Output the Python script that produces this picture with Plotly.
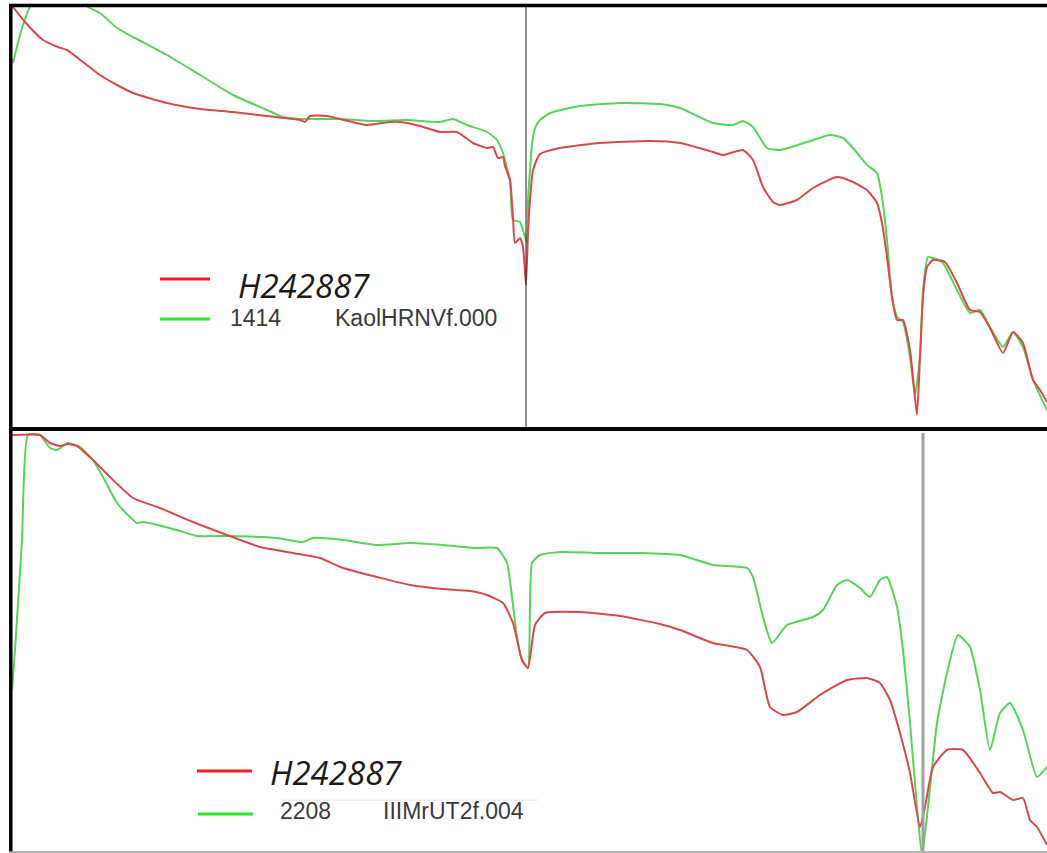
import plotly.graph_objects as go

W, H = 1047, 853

# ---------------- data (wavelength nm, reflectance) ----------------
# Top panel: sample H242887 vs reference 1414 KaolHRNVf.000
top_red_wl = [388, 412, 448, 478, 496, 528, 562, 596, 628, 696, 762, 828, 896, 962, 972, 982,
              1016, 1042, 1096, 1142, 1162, 1202, 1242, 1276, 1308, 1336, 1348, 1358, 1368, 1372,
              1382, 1388, 1392, 1402, 1408, 1414, 1418, 1422, 1428, 1442, 1482, 1562, 1662, 1722,
              1788, 1808, 1848, 1868, 1888, 1908, 1922, 1956, 1988, 2036, 2068, 2096, 2116, 2126,
              2136, 2146, 2156, 2168, 2182, 2188, 2196, 2202, 2208, 2216, 2228, 2252, 2276, 2302,
              2322, 2342, 2368, 2388, 2408, 2428, 2442, 2456]
top_red_r = [0.421, 0.406, 0.388, 0.381, 0.378, 0.366, 0.353, 0.343, 0.335, 0.325, 0.319, 0.316,
             0.312, 0.308, 0.306, 0.312, 0.312, 0.309, 0.303, 0.306, 0.306, 0.302, 0.296, 0.296,
             0.285, 0.280, 0.281, 0.270, 0.271, 0.262, 0.248, 0.211, 0.185, 0.190, 0.181, 0.143,
             0.195, 0.228, 0.258, 0.274, 0.280, 0.285, 0.287, 0.285, 0.276, 0.273, 0.278, 0.268,
             0.241, 0.226, 0.223, 0.228, 0.240, 0.251, 0.246, 0.238, 0.225, 0.205, 0.171, 0.131,
             0.108, 0.108, 0.078, 0.051, 0.013, 0.071, 0.131, 0.161, 0.168, 0.166, 0.145, 0.118,
             0.116, 0.100, 0.075, 0.096, 0.085, 0.048, 0.038, 0.026]

top_green_wl = [388, 402, 422, 452, 482, 512, 538, 562, 596, 628, 696, 762, 828, 896, 928, 962,
                1042, 1108, 1176, 1242, 1268, 1296, 1336, 1356, 1368, 1372, 1382, 1388, 1402, 1412,
                1416, 1418, 1422, 1426, 1432, 1442, 1462, 1522, 1602, 1682, 1722, 1788, 1828, 1848,
                1868, 1896, 1922, 1976, 2022, 2048, 2068, 2096, 2116, 2126, 2136, 2146, 2156, 2168,
                2182, 2192, 2202, 2208, 2218, 2228, 2248, 2276, 2302, 2322, 2342, 2368, 2388, 2408,
                2428, 2456]
top_green_r = [0.365, 0.393, 0.421, 0.436, 0.440, 0.434, 0.421, 0.415, 0.400, 0.391, 0.373, 0.353,
               0.333, 0.318, 0.311, 0.309, 0.309, 0.307, 0.308, 0.306, 0.309, 0.303, 0.296, 0.288,
               0.275, 0.268, 0.248, 0.208, 0.206, 0.191, 0.185, 0.228, 0.258, 0.283, 0.300, 0.308,
               0.315, 0.322, 0.325, 0.324, 0.320, 0.305, 0.303, 0.307, 0.301, 0.280, 0.278, 0.286,
               0.293, 0.290, 0.280, 0.263, 0.255, 0.231, 0.188, 0.131, 0.111, 0.106, 0.071, 0.033,
               0.071, 0.138, 0.171, 0.170, 0.165, 0.138, 0.115, 0.118, 0.101, 0.081, 0.096, 0.081,
               0.048, 0.018]

# Bottom panel: sample H242887 vs reference 2208 IIIMrUT2f.004
bot_red_wl = [386, 442, 462, 482, 498, 516, 548, 582, 628, 682, 748, 816, 882, 948, 1002, 1048,
              1116, 1182, 1248, 1302, 1336, 1368, 1388, 1406, 1418, 1432, 1452, 1522, 1602, 1682,
              1722, 1788, 1856, 1882, 1902, 1928, 1956, 2002, 2056, 2096, 2122, 2142, 2162, 2182,
              2202, 2212, 2228, 2256, 2288, 2322, 2348, 2362, 2388, 2408, 2422, 2436, 2456]
bot_red_r = [0.416, 0.416, 0.408, 0.405, 0.407, 0.405, 0.391, 0.374, 0.353, 0.343, 0.329, 0.316,
             0.304, 0.298, 0.293, 0.283, 0.274, 0.266, 0.262, 0.260, 0.256, 0.248, 0.228, 0.191,
             0.183, 0.226, 0.238, 0.239, 0.235, 0.227, 0.221, 0.208, 0.201, 0.184, 0.144, 0.136,
             0.139, 0.156, 0.171, 0.173, 0.168, 0.151, 0.118, 0.078, 0.024, 0.044, 0.084, 0.101,
             0.101, 0.078, 0.058, 0.059, 0.051, 0.053, 0.031, 0.024, 0.006]

bot_green_wl = [386, 392, 406, 418, 442, 462, 476, 498, 522, 548, 568, 596, 636, 648, 716, 756,
                822, 916, 968, 988, 1048, 1116, 1182, 1248, 1316, 1356, 1376, 1386, 1396, 1406,
                1418, 1426, 1442, 1482, 1562, 1642, 1722, 1788, 1856, 1868, 1888, 1906, 1936, 1988,
                2008, 2036, 2056, 2082, 2102, 2122, 2136, 2156, 2168, 2182, 2196, 2206, 2218, 2236,
                2256, 2278, 2302, 2322, 2342, 2362, 2382, 2408, 2436, 2456]
bot_green_r = [0.161, 0.201, 0.311, 0.416, 0.416, 0.403, 0.401, 0.408, 0.404, 0.391, 0.374, 0.348,
               0.328, 0.329, 0.321, 0.315, 0.315, 0.313, 0.309, 0.313, 0.311, 0.306, 0.308, 0.306,
               0.303, 0.303, 0.288, 0.254, 0.214, 0.191, 0.183, 0.288, 0.296, 0.299, 0.298, 0.298,
               0.296, 0.286, 0.283, 0.274, 0.234, 0.208, 0.226, 0.234, 0.241, 0.266, 0.271, 0.263,
               0.254, 0.271, 0.274, 0.244, 0.201, 0.128, 0.044, -0.004, 0.044, 0.128, 0.178, 0.216,
               0.204, 0.161, 0.101, 0.138, 0.148, 0.121, 0.074, 0.084]

top_marker_wl = 1414
bot_marker_wl = 2208

legend_top = [("H242887", None), ("1414", "KaolHRNVf.000")]
legend_bot = [("H242887", None), ("2208", "IIIMrUT2f.004")]

# ---------------- styling ----------------
RED = "#d84a4a"
GREEN = "#55d455"
LEG_RED = "#ff1a1a"
LEG_GREEN = "#22ee22"

def px(x):
    return x / W

def py(y):
    return 1 - y / H

fig = go.Figure()

XR = [386, 2456]
fig.update_layout(
    width=W, height=H,
    margin=dict(l=0, r=0, t=0, b=0),
    paper_bgcolor="white", plot_bgcolor="white",
    showlegend=False,
    xaxis=dict(domain=[px(12), 1], range=XR, visible=False, anchor="y"),
    yaxis=dict(domain=[py(427), py(7)], range=[0.001, 0.421], visible=False, anchor="x"),
    xaxis2=dict(domain=[px(12), 1], range=XR, visible=False, anchor="y2"),
    yaxis2=dict(domain=[py(851), py(431)], range=[0.0, 0.420], visible=False, anchor="x2"),
)

LS = dict(width=2, shape="spline", smoothing=0.5)
fig.add_trace(go.Scatter(x=top_green_wl, y=top_green_r, mode="lines",
                         line=dict(color=GREEN, **LS), xaxis="x", yaxis="y"))
fig.add_trace(go.Scatter(x=top_red_wl, y=top_red_r, mode="lines",
                         line=dict(color=RED, **LS), xaxis="x", yaxis="y"))
fig.add_trace(go.Scatter(x=bot_green_wl, y=bot_green_r, mode="lines",
                         line=dict(color=GREEN, **LS), xaxis="x2", yaxis="y2"))
fig.add_trace(go.Scatter(x=bot_red_wl, y=bot_red_r, mode="lines",
                         line=dict(color=RED, **LS), xaxis="x2", yaxis="y2"))

shapes = []
# feature marker lines
shapes.append(dict(type="line", xref="x", yref="y", x0=top_marker_wl, x1=top_marker_wl,
                   y0=0.001, y1=0.421, line=dict(color="#222222", width=1)))
shapes.append(dict(type="line", xref="x2", yref="paper", x0=bot_marker_wl, x1=bot_marker_wl,
                   y0=py(851), y1=py(433), line=dict(color="#a0a0a0", width=3)))
# panel frames
shapes.append(dict(type="line", xref="paper", yref="paper", x0=px(9), x1=1, y0=py(5.5), y1=py(5.5),
                   line=dict(color="black", width=3.5)))
shapes.append(dict(type="line", xref="paper", yref="paper", x0=px(9), x1=1, y0=py(429), y1=py(429),
                   line=dict(color="black", width=4)))
shapes.append(dict(type="line", xref="paper", yref="paper", x0=px(10.8), x1=px(10.8), y0=py(852), y1=py(4),
                   line=dict(color="black", width=3.5)))
shapes.append(dict(type="line", xref="paper", yref="paper", x0=px(9), x1=1, y0=py(852), y1=py(852),
                   line=dict(color="#9a9a9a", width=1.5)))
# legend swatches
shapes.append(dict(type="line", xref="paper", yref="paper", x0=px(160), x1=px(210), y0=py(279), y1=py(279),
                   line=dict(color=LEG_RED, width=3)))
shapes.append(dict(type="line", xref="paper", yref="paper", x0=px(160), x1=px(210), y0=py(319), y1=py(319),
                   line=dict(color=LEG_GREEN, width=3)))
shapes.append(dict(type="line", xref="paper", yref="paper", x0=px(197), x1=px(252), y0=py(771), y1=py(771),
                   line=dict(color=LEG_RED, width=3)))
shapes.append(dict(type="line", xref="paper", yref="paper", x0=px(198), x1=px(253), y0=py(814), y1=py(814),
                   line=dict(color=LEG_GREEN, width=3)))
shapes.append(dict(type="line", xref="paper", yref="paper", x0=px(280), x1=px(538), y0=py(800), y1=py(800),
                   line=dict(color="#e2e2e2", width=1)))
fig.update_layout(shapes=shapes)

ann = []
def label(x, y, text, size, color, family, italic=False):
    ann.append(dict(xref="paper", yref="paper", x=px(x), y=py(y), xanchor="left", yanchor="middle",
                    text=f"<i>{text}</i>" if italic else text, showarrow=False,
                    font=dict(size=size, color=color, family=family)))

label(236, 285, legend_top[0][0], 33, "#1a1a1a", "Open Sans", italic=True)
label(228, 318, legend_top[1][0], 23, "#3a3a3a", "Liberation Sans")
label(333, 318, legend_top[1][1], 23, "#3a3a3a", "Liberation Sans")
label(268, 772, legend_bot[0][0], 33, "#1a1a1a", "Open Sans", italic=True)
label(278, 811, legend_bot[1][0], 23, "#3a3a3a", "Liberation Sans")
label(381, 811, legend_bot[1][1], 23, "#3a3a3a", "Liberation Sans")
fig.update_layout(annotations=ann)

fig.write_html("out.html", config={"displayModeBar": False},
               post_script="document.body.style.margin='0';document.body.style.overflow='hidden';")
